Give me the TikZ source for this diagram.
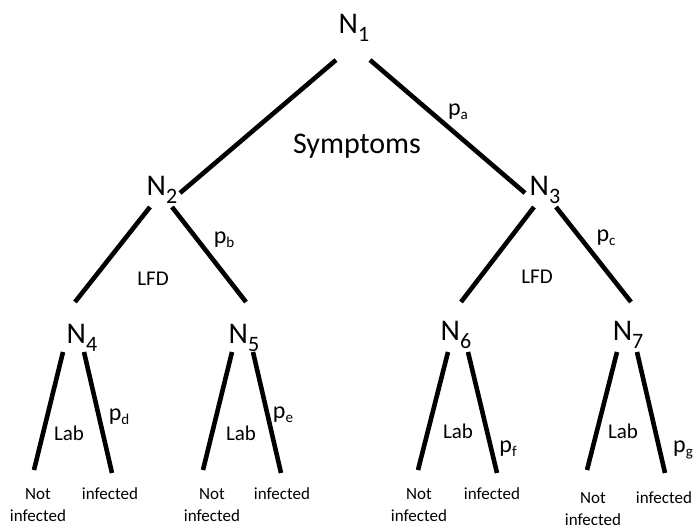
\documentclass[tikz,border=0pt]{standalone}
\usepackage{fontspec}
\setmainfont{Carlito}
\newcommand{\Nlab}[1]{N\raisebox{-8pt}{\fontsize{22}{24}\selectfont #1}}
\newcommand{\plab}[1]{p\raisebox{-4pt}{\fontsize{15}{17}\selectfont #1}}
\begin{document}
\begin{tikzpicture}[x=1pt,y=-1pt,
  nlabel/.style={inner sep=0pt,anchor=base,font=\fontsize{30}{36}\selectfont},
  edge/.style={line width=4.6pt,black},
  plabel/.style={inner sep=0pt,anchor=base,font=\fontsize{24}{26}\selectfont},
  tlabel/.style={inner sep=0pt,anchor=base,font=\fontsize{21}{24}\selectfont},
  outcome/.style={inner sep=0pt,anchor=base,align=center,font=\fontsize{17}{22}\selectfont}]
\useasboundingbox (0,0) rectangle (696,530);
% node labels
\node[nlabel] (n1) at (354,33) {\Nlab{1}};
\node[nlabel] (n2) at (162,195) {\Nlab{2}};
\node[nlabel] (n3) at (545,195) {\Nlab{3}};
\node[nlabel] (n4) at (82,343) {\Nlab{4}};
\node[nlabel] (n5) at (244,343) {\Nlab{5}};
\node[nlabel] (n6) at (456,340) {\Nlab{6}};
\node[nlabel] (n7) at (628,340) {\Nlab{7}};
% line end coordinates
\coordinate (a1l) at (336,60); \coordinate (a1r) at (370,60);
\coordinate (a2t) at (180,193); \coordinate (a3t) at (525,193);
\coordinate (b2l) at (150,207); \coordinate (b2r) at (172,207);
\coordinate (b3l) at (534,207); \coordinate (b3r) at (556,207);
\coordinate (b4t) at (75,302); \coordinate (b5t) at (246,302);
\coordinate (b6t) at (461,302); \coordinate (b7t) at (631,302);
\coordinate (c4l) at (63,352); \coordinate (c4r) at (84,352);
\coordinate (c5l) at (232,352); \coordinate (c5r) at (253,352);
\coordinate (c6l) at (448,352); \coordinate (c6r) at (468,352);
\coordinate (c7l) at (617,352); \coordinate (c7r) at (637,352);
\coordinate (d4l) at (34,470); \coordinate (d4r) at (112,473);
\coordinate (d5l) at (203,470); \coordinate (d5r) at (281,473);
\coordinate (d6l) at (418,470); \coordinate (d6r) at (497,473);
\coordinate (d7l) at (587,470); \coordinate (d7r) at (665,473);
% connectors
\draw[edge] (a1l) -- (a2t);
\draw[edge] (a1r) -- (a3t);
\draw[edge] (b2l) -- (b4t);
\draw[edge] (b2r) -- (b5t);
\draw[edge] (b3l) -- (b6t);
\draw[edge] (b3r) -- (b7t);
\draw[edge] (c4l) -- (d4l); \draw[edge] (c4r) -- (d4r);
\draw[edge] (c5l) -- (d5l); \draw[edge] (c5r) -- (d5r);
\draw[edge] (c6l) -- (d6l); \draw[edge] (c6r) -- (d6r);
\draw[edge] (c7l) -- (d7l); \draw[edge] (c7r) -- (d7r);
% edge labels
\node[nlabel] (symp) at (357,153) {Symptoms};
\node[plabel] (pa) at (458,115) {\plab{a}};
\node[plabel] (pb) at (224,243) {\plab{b}};
\node[plabel] (pc) at (606,241) {\plab{c}};
\node[tlabel] (lfd2) at (153,285) {LFD};
\node[tlabel] (lfd3) at (537,283) {LFD};
\node[plabel] (pd) at (119,420) {\plab{d}};
\node[plabel] (pe) at (283,418) {\plab{e}};
\node[plabel] (pf) at (508,452) {\plab{f}};
\node[plabel] (pg) at (683,452) {\plab{g}};
\node[tlabel] (lab4) at (69,440) {Lab};
\node[tlabel] (lab5) at (241,440) {Lab};
\node[tlabel] (lab6) at (458,438) {Lab};
\node[tlabel] (lab7) at (623,438) {Lab};
% outcomes
\node[outcome] (o4n) at (38,521) {Not\\infected};
\node[outcome] (o4i) at (110,499) {infected};
\node[outcome] (o5n) at (212,521) {Not\\infected};
\node[outcome] (o5i) at (282,499) {infected};
\node[outcome] (o6n) at (419,521) {Not\\infected};
\node[outcome] (o6i) at (492,499) {infected};
\node[outcome] (o7n) at (593,525) {Not\\infected};
\node[outcome] (o7i) at (664,503) {infected};
\end{tikzpicture}
\end{document}
